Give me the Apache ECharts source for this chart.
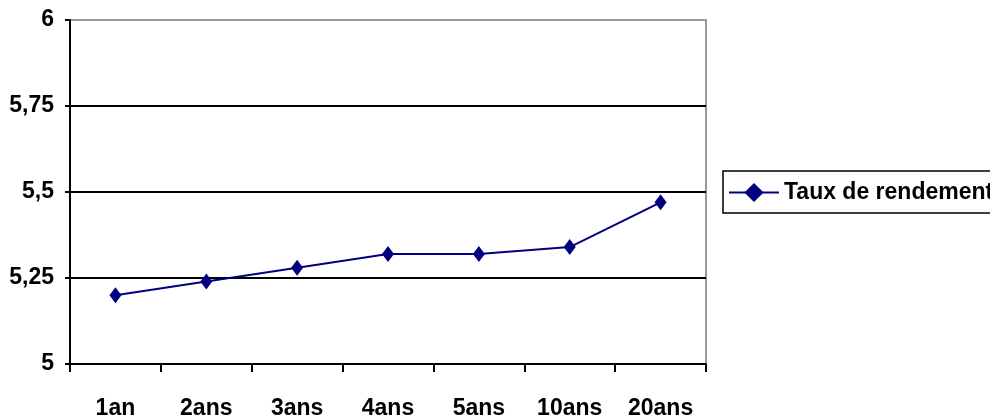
<!DOCTYPE html>
<html><head><meta charset="utf-8">
<script src="https://cdn.jsdelivr.net/npm/echarts@6/dist/echarts.min.js"></script>
<style>html,body{margin:0;padding:0;background:#fff}#c{width:990px;height:420px}</style>
</head><body><div id="c"></div>
<script>
const categories = ['1an','2ans','3ans','4ans','5ans','10ans','20ans'];
const seriesName = 'Taux de rendement';
const values = [5.20, 5.24, 5.28, 5.32, 5.32, 5.34, 5.47];
const yTicks = [5, 5.25, 5.5, 5.75, 6];

const chart = echarts.init(document.getElementById('c'));
const font = 'Liberation Sans, Arial, sans-serif';
chart.setOption({
  animation: false,
  backgroundColor: '#fff',
  grid: { left: 70, top: 20, right: 284, bottom: 55, show: true, borderColor: '#999', borderWidth: 2 },
  legend: {
    left: 723, top: 171, orient: 'vertical',
    padding: [10, 8, 9, 5],
    borderColor: '#000', borderWidth: 1.5,
    itemWidth: 50, itemHeight: 24, itemGap: 0,
    textStyle: { fontFamily: font, fontWeight: 'bold', fontSize: 23, color: '#000' },
    data: [seriesName]
  },
  xAxis: {
    type: 'category', data: categories, boundaryGap: true,
    axisLine: { lineStyle: { color: '#000', width: 2 } },
    axisTick: { show: true, length: 8, lineStyle: { color: '#000', width: 2 } },
    axisLabel: { margin: 33, fontFamily: font, fontWeight: 'bold', fontSize: 23, color: '#000' },
    splitLine: { show: false }
  },
  yAxis: {
    type: 'value', min: yTicks[0], max: yTicks[yTicks.length-1], interval: 0.25,
    axisLine: { show: true, lineStyle: { color: '#000', width: 2 } },
    axisTick: { show: true, length: 5, lineStyle: { color: '#000', width: 2 } },
    axisLabel: { margin: 16, fontFamily: font, fontWeight: 'bold', fontSize: 23, color: '#000',
      formatter: v => String(v).replace('.', ',') },
    splitLine: { show: true, showMaxLine: false, lineStyle: { color: '#000', width: 2 } }
  },
  series: [{
    name: seriesName, type: 'line', data: values,
    symbol: 'diamond', symbolSize: [12, 16],
    lineStyle: { color: '#000080', width: 2 },
    itemStyle: { color: '#000080' }
  }]
});
</script></body></html>
